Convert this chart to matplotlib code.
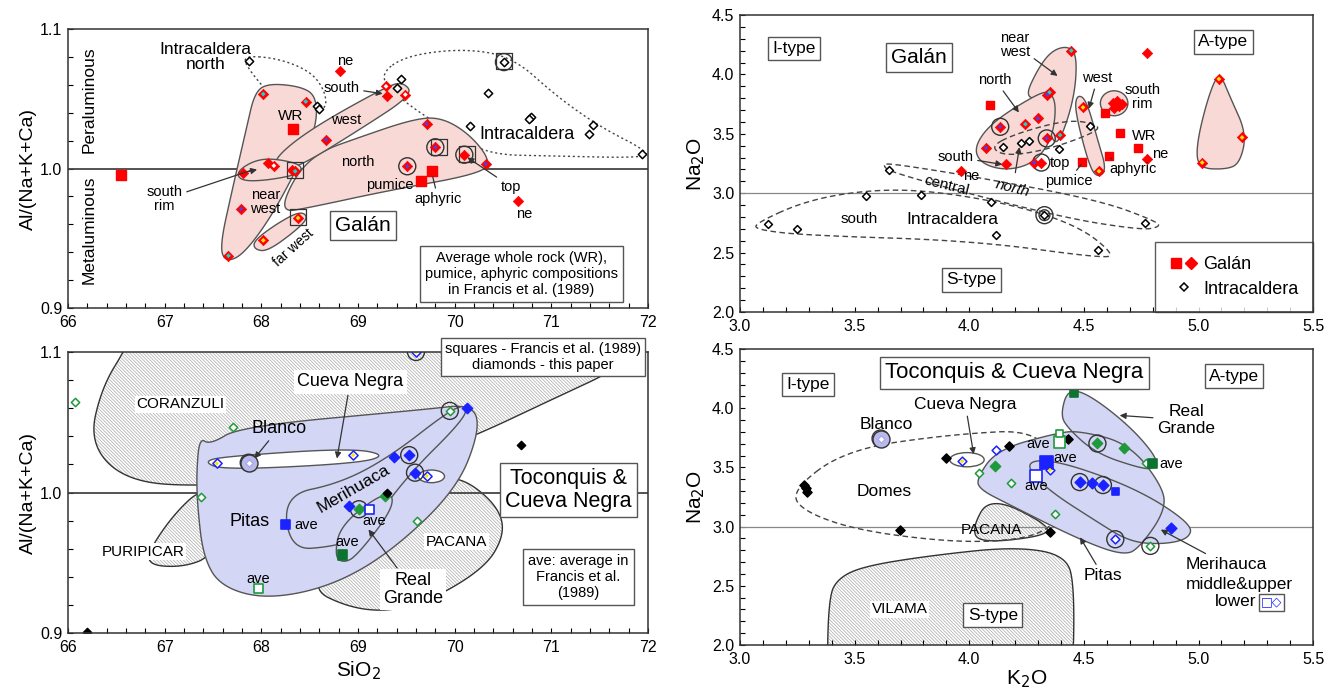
import numpy as np
import matplotlib
matplotlib.use('Agg')
import matplotlib.pyplot as plt
from matplotlib.patches import Polygon, Ellipse
from matplotlib.ticker import MultipleLocator
from matplotlib.legend_handler import HandlerTuple
from matplotlib.lines import Line2D

plt.rcParams['font.family'] = ['Liberation Sans', 'DejaVu Sans']
plt.rcParams['hatch.linewidth'] = 0.5

PINK = '#f8d9d6'
LAV = '#d3d6f4'
EDGE = '#555555'
BLUE = '#1a22ff'
GREEN = '#1f9a3a'
DKGREEN = '#0c7430'
HATCH_COLOR = '#a8a8a8'
CENTER = {'c': '#19d4d4', 'b': '#5b3cd6', 'y': '#ffe500', 'w': 'white', 'r': 'red'}
HATCH = '\\' * 10

# ---------------- panel 1: Galan, SiO2 vs A/CNK ----------------
p1_sq_x = [66.55, 68.33, 69.65, 69.77]
p1_sq_y = [0.9956, 1.0283, 0.991, 0.998]
p1_dia_x = [68.02, 68.46, 68.67, 67.81, 68.07, 68.13, 68.32, 68.35, 67.79, 67.66, 68.02,
            68.38, 68.81, 69.29, 69.30, 69.49, 69.71, 69.51, 69.80, 70.10, 70.32, 70.66]
p1_dia_y = [1.0534, 1.048, 1.0207, 0.9968, 1.004, 1.002, 0.999, 0.998, 0.971, 0.9375, 0.9485,
            0.9645, 1.0697, 1.0589, 1.0517, 1.053, 1.032, 1.0016, 1.0152, 1.0099, 1.0032, 0.9765]
p1_dia_c = ['c', 'c', 'b', 'r', 'r', 'w', 'r', 'c', 'b', 'c', 'y',
            'y', 'r', 'w', 'r', 'w', 'b', 'b', 'b', 'r', 'b', 'r']
p1_int_x = [67.87, 68.58, 68.60, 69.40, 69.45, 70.35, 70.51, 70.79, 70.77, 70.16, 71.43, 71.39, 71.94]
p1_int_y = [1.0773, 1.045, 1.043, 1.0577, 1.0644, 1.0539, 1.0763, 1.0369, 1.0355, 1.0302, 1.0314, 1.0247, 1.0106]
p1_circ_x = [69.51, 69.80, 70.10, 70.51]
p1_circ_y = [1.0016, 1.0152, 1.0099, 1.0763]
p1_box_x = [68.35, 68.38, 69.84, 70.13, 70.51]
p1_box_y = [0.999, 0.9650, 1.0155, 1.0105, 1.0773]

p1_near_west = [(67.93, 1.054), (68.06, 1.061), (68.40, 1.059), (68.57, 1.052), (68.57, 1.030),
                (68.40, 1.004), (68.10, 0.965), (67.81, 0.938), (67.63, 0.933), (67.57, 0.944),
                (67.70, 0.985), (67.85, 1.030)]
p1_west = [(68.12, 1.0064), (68.50, 1.028), (69.30, 1.059), (69.47, 1.062), (69.57, 1.053),
           (69.02, 1.028), (68.40, 1.0016), (68.19, 0.999)]
p1_south_rim = [(67.74, 0.997), (67.90, 1.005), (68.10, 1.0075), (68.42, 1.003), (68.40, 0.996),
                (68.06, 0.9915), (67.80, 0.991)]
p1_north = [(68.19, 0.9684), (68.35, 0.995), (68.60, 1.012), (69.00, 1.022), (69.55, 1.035),
            (69.85, 1.037), (70.15, 1.025), (70.38, 1.005), (70.25, 0.996), (69.30, 0.984), (68.50, 0.972)]
p1_far_west = [(67.92, 0.948), (68.15, 0.960), (68.40, 0.9695), (68.49, 0.9650), (68.35, 0.955),
               (68.06, 0.9405), (67.93, 0.942)]
p1_int_north = [(67.80, 1.081), (68.17, 1.079), (68.50, 1.070), (68.65, 1.057), (68.68, 1.043),
                (68.50, 1.040), (68.10, 1.052), (67.88, 1.070)]
p1_int_all = [(69.23, 1.068), (69.50, 1.081), (70.10, 1.086), (70.60, 1.080), (71.05, 1.052),
              (71.50, 1.030), (71.98, 1.013), (71.98, 1.0075), (71.00, 1.009), (70.35, 1.010),
              (70.00, 1.025), (69.70, 1.037), (69.35, 1.055)]

# ---------------- panel 2: Galan, K2O vs Na2O ----------------
p2_sq_x = [4.089, 4.593, 4.657, 4.734, 4.611, 4.491]
p2_sq_y = [3.742, 3.677, 3.503, 3.382, 3.315, 3.264]
p2_dia_x = [4.774, 4.445, 4.350, 4.340, 4.245, 4.299, 4.135, 4.073, 4.338, 4.396, 4.159, 4.283,
            4.314, 4.496, 4.566, 4.776, 3.962, 4.625, 4.645, 4.655, 4.632, 4.668, 4.640,
            5.089, 5.190, 5.016]
p2_dia_y = [4.177, 4.200, 3.848, 3.830, 3.581, 3.629, 3.559, 3.382, 3.461, 3.489, 3.242, 3.258,
            3.258, 3.722, 3.185, 3.292, 3.188, 3.760, 3.780, 3.730, 3.720, 3.750, 3.745,
            3.961, 3.469, 3.258]
p2_dia_c = ['r', 'c', 'c', 'b', 'c', 'b', 'b', 'b', 'b', 'c', 'r', 'b',
            'r', 'y', 'y', 'r', 'r', 'r', 'r', 'r', 'r', 'r', 'r',
            'y', 'y', 'y']
p2_int_x = [4.146, 4.226, 4.259, 4.392, 4.527, 3.651, 3.551, 3.788, 4.095, 4.328, 3.124, 3.248,
            4.117, 4.765, 4.560]
p2_int_y = [3.390, 3.424, 3.441, 3.371, 3.567, 3.194, 2.975, 2.983, 2.927, 2.815, 2.744, 2.699,
            2.646, 2.750, 2.525]
p2_circ_x = [4.135, 4.338, 4.314, 4.328]
p2_circ_y = [3.559, 3.461, 3.258, 2.815]

p2_near_west = [(4.43, 4.24), (4.47, 4.16), (4.46, 3.82), (4.40, 3.45), (4.36, 3.42), (4.33, 3.80),
                (4.24, 3.80), (4.30, 4.05), (4.36, 4.20)]
p2_north = [(4.02, 3.39), (4.10, 3.60), (4.30, 3.84), (4.355, 3.855), (4.38, 3.73), (4.36, 3.45),
            (4.28, 3.25), (4.16, 3.19), (4.05, 3.25)]
p2_west = [(4.47, 3.83), (4.51, 3.79), (4.56, 3.45), (4.60, 3.19), (4.556, 3.13), (4.52, 3.25), (4.46, 3.70)]
p2_far_west = [(5.09, 4.03), (5.14, 3.80), (5.21, 3.50), (5.18, 3.25), (5.12, 3.20), (5.00, 3.21),
               (4.99, 3.40), (5.04, 3.80)]
p2_int_north = [(4.09, 3.39), (4.20, 3.50), (4.43, 3.62), (4.56, 3.58), (4.56, 3.52), (4.35, 3.37), (4.16, 3.31)]
p2_central = [(3.62, 3.24), (3.66, 3.25), (4.02, 3.14), (4.57, 2.94), (4.82, 2.76), (4.83, 2.715),
              (4.75, 2.69), (4.39, 2.80), (3.66, 3.17)]
p2_south = [(3.06, 2.74), (3.29, 2.94), (3.57, 3.03), (3.84, 3.02), (4.20, 2.90), (4.48, 2.72),
            (4.63, 2.49), (4.59, 2.45), (4.02, 2.60), (3.29, 2.645), (3.08, 2.69)]

# ---------------- panel 3: Toconquis & Cueva Negra, SiO2 vs A/CNK ----------------
p3_blue_x = [69.37, 69.53, 69.59, 70.13, 68.91]
p3_blue_y = [1.0254, 1.0266, 1.0141, 1.0602, 0.9907]
p3_blueopen_x = [67.54, 68.95, 69.71, 69.60]
p3_blueopen_y = [1.0207, 1.0266, 1.0117, 1.100]
p3_greenopen_x = [66.07, 67.38, 67.71, 69.61, 69.95]
p3_greenopen_y = [1.0645, 0.997, 1.0463, 0.9798, 1.0581]
p3_green_x = [69.01, 69.28]
p3_green_y = [0.9881, 0.9975]
p3_black_x = [66.20, 70.69, 69.30]
p3_black_y = [0.9007, 1.0337, 0.9995]
p3_blanco = (67.87, 1.0212)
p3_circ_x = [67.87, 69.53, 69.59, 69.95, 69.01, 69.60]
p3_circ_y = [1.0212, 1.0266, 1.0141, 1.0581, 0.9881, 1.100]
p3_ave_x = [68.25, 69.12, 68.84, 67.97]
p3_ave_y = [0.9774, 0.9881, 0.9556, 0.9315]
p3_ave_fc = [BLUE, 'white', DKGREEN, 'white']
p3_ave_ec = [BLUE, BLUE, DKGREEN, GREEN]

p3_coranzuli = [(66.70, 1.125), (72.30, 1.125), (71.75, 1.090), (71.0, 1.066), (70.2, 1.040),
                (69.5, 1.022), (68.5, 1.012), (67.4, 1.004), (66.6, 1.008), (66.22, 1.035),
                (66.35, 1.075), (66.62, 1.105)]
p3_puripicar = [(66.85, 0.948), (66.83, 0.958), (67.10, 0.985), (67.40, 1.004), (67.60, 0.990),
                (67.50, 0.955), (67.20, 0.947)]
p3_pacana = [(68.40, 0.935), (69.00, 0.915), (69.60, 0.918), (70.30, 0.945), (70.52, 0.970),
             (70.45, 0.990), (70.10, 1.010), (69.80, 1.010), (69.50, 0.980)]
p3_pitas = [(67.36, 1.039), (67.47, 1.034), (67.78, 1.047), (69.68, 1.059), (70.19, 1.063),
            (70.26, 1.044), (70.02, 1.002), (69.33, 0.957), (68.71, 0.933), (68.05, 0.924),
            (67.58, 0.933), (67.40, 0.954), (67.34, 0.990), (67.33, 1.014)]
p3_cueva = [(67.40, 1.0219), (67.61, 1.0256), (68.92, 1.0316), (69.30, 1.0266), (68.99, 1.0207),
            (67.61, 1.0160)]
p3_merihuaca = [(68.30, 0.9592), (68.23, 0.9982), (68.81, 1.0065), (69.33, 1.0254), (69.95, 1.0586),
                (70.13, 1.0625), (70.09, 1.0515), (69.50, 1.0112), (69.05, 0.9686), (68.74, 0.9615)]
p3_real = [(68.76, 0.9544), (68.81, 0.9757), (69.19, 0.9970), (69.37, 0.9990), (69.33, 0.9852),
           (68.98, 0.9544), (68.85, 0.9500)]

# ---------------- panel 4: Toconquis & Cueva Negra, K2O vs Na2O ----------------
p4_black_x = [3.277, 3.286, 3.292, 3.697, 3.899, 4.172, 4.430, 4.352]
p4_black_y = [3.351, 3.323, 3.295, 2.969, 3.576, 3.685, 3.736, 2.955]
p4_blueopen_x = [3.969, 4.352, 4.118, 4.637]
p4_blueopen_y = [3.553, 3.478, 3.643, 2.893]
p4_green_x = [4.111, 4.559, 4.675]
p4_green_y = [3.511, 3.702, 3.666]
p4_greenopen_x = [4.042, 4.181, 4.375, 4.790, 4.770]
p4_greenopen_y = [3.455, 3.365, 3.104, 2.837, 3.539]
p4_blue_x = [4.482, 4.535, 4.583, 4.882]
p4_blue_y = [3.376, 3.365, 3.351, 2.992]
p4_blanco = (3.613, 3.744)
p4_circ_x = [3.613, 4.482, 4.583, 4.559, 4.637, 4.790]
p4_circ_y = [3.744, 3.376, 3.351, 3.702, 2.893, 2.837]
p4_sq_x = [4.458, 4.800, 4.393, 4.395, 4.338, 4.637, 4.292]
p4_sq_y = [4.124, 3.535, 3.713, 3.790, 3.539, 3.295, 3.427]
p4_sq_fc = [DKGREEN, DKGREEN, 'white', 'white', BLUE, BLUE, 'white']
p4_sq_ec = [DKGREEN, DKGREEN, GREEN, GREEN, BLUE, BLUE, BLUE]
p4_sq_s = [30, 40, 70, 25, 90, 25, 70]

p4_vilama = [(3.38, 1.60), (3.385, 2.40), (3.43, 2.57), (3.55, 2.67), (3.85, 2.76), (4.20, 2.83),
             (4.42, 2.76), (4.46, 2.50), (4.45, 1.60)]
p4_pacana = [(4.09, 3.26), (4.35, 3.01), (4.33, 2.92), (4.05, 2.86), (4.01, 2.98)]
p4_domes = [(3.22, 3.30), (3.46, 3.65), (3.92, 3.78), (4.33, 3.82), (4.40, 3.30), (4.37, 2.95),
            (4.05, 2.85), (3.55, 2.95), (3.28, 3.12)]
p4_pitas = [(4.03, 3.40), (4.12, 3.65), (4.38, 3.79), (4.48, 3.81), (4.70, 3.70), (4.85, 3.32),
            (4.85, 3.12), (4.75, 2.84), (4.68, 2.75), (4.48, 2.89), (4.16, 3.20), (4.05, 3.31)]
p4_real = [(4.40, 3.96), (4.43, 4.16), (4.52, 4.12), (4.70, 3.85), (4.82, 3.58), (4.81, 3.49),
           (4.75, 3.49), (4.55, 3.62), (4.42, 3.85)]
p4_merihuaca = [(4.29, 3.57), (4.45, 3.52), (4.75, 3.30), (4.97, 3.02), (4.96, 2.90), (4.85, 2.85),
                (4.70, 2.87), (4.55, 3.05), (4.35, 3.30), (4.25, 3.50)]


def smooth(pts, n=4):
    p = np.asarray(pts, float)
    for _ in range(n):
        nxt = np.roll(p, -1, axis=0)
        q = np.empty((2 * len(p), 2))
        q[0::2] = 0.75 * p + 0.25 * nxt
        q[1::2] = 0.25 * p + 0.75 * nxt
        p = q
    return p


def region(ax, pts, fc, ec=EDGE, ls='-', lw=1.0, z=1):
    ax.add_patch(Polygon(smooth(pts), closed=True, fc=fc, ec=ec, ls=ls, lw=lw, zorder=z))


def hatched(ax, pts, z=1):
    # light hatch fill first, dark outline on top
    xy = smooth(pts)
    ax.add_patch(Polygon(xy, closed=True, fc='white', ec=HATCH_COLOR, lw=0, hatch=HATCH, zorder=z))
    ax.add_patch(Polygon(xy, closed=True, fc='none', ec='#333333', lw=1.0, zorder=z))


def galan(ax, xs, ys, cs):
    ax.scatter(xs, ys, marker='D', s=28, c='red', edgecolors='red', linewidths=0.5, zorder=6)
    ax.scatter(xs, ys, marker='D', s=6, c=[CENTER[c] for c in cs], edgecolors='none', zorder=7)


def open_dia(ax, xs, ys, color, s=20, inner=None):
    ax.scatter(xs, ys, marker='D', s=s, facecolors='white', edgecolors=color, linewidths=1.1, zorder=6)
    if inner:
        ax.scatter(xs, ys, marker='D', s=5, c=inner, edgecolors='none', zorder=7)


def circles(ax, xs, ys):
    ax.scatter(xs, ys, marker='o', s=150, facecolors='none', edgecolors='#333333', linewidths=1.0, zorder=5)


def style(ax, xlim, ylim, xmaj, xmin, ymaj, ymin, yfmt):
    ax.set_xlim(*xlim)
    ax.set_ylim(*ylim)
    ax.xaxis.set_major_locator(MultipleLocator(xmaj))
    ax.xaxis.set_minor_locator(MultipleLocator(xmin))
    ax.yaxis.set_major_locator(MultipleLocator(ymaj))
    ax.yaxis.set_minor_locator(MultipleLocator(ymin))
    ax.yaxis.set_major_formatter(yfmt)
    ax.tick_params(which='both', direction='in', length=3.5, width=0.8, labelsize=11.5)
    ax.tick_params(axis='x', pad=5)
    ax.tick_params(axis='y', pad=4)
    ax.tick_params(which='both', top=False, right=False)
    for s in ax.spines.values():
        s.set_linewidth(1.1)
        s.set_color('#333333')
        s.set_zorder(10)


BOX = dict(boxstyle='square,pad=0.25', fc='white', ec='#555555', lw=1.0)
ARROW = dict(arrowstyle='-|>', color='#333333', lw=0.9, mutation_scale=9, shrinkA=1, shrinkB=1)
LINE = dict(arrowstyle='-', color='#333333', lw=0.9, shrinkA=1, shrinkB=1)

fig = plt.figure(figsize=(13.38, 6.91), dpi=100)
ax1 = fig.add_axes([0.0508, 0.5543, 0.4335, 0.4037])
ax2 = fig.add_axes([0.5531, 0.5485, 0.4283, 0.4298])
ax3 = fig.add_axes([0.0508, 0.0839, 0.4335, 0.4067])
ax4 = fig.add_axes([0.5531, 0.0666, 0.4283, 0.4283])

# ---------- panel 1 ----------
ax = ax1
style(ax, (66, 72), (0.9, 1.1), 1, 0.2, 0.1, 0.02, '{x:.1f}')
ax.axhline(1.0, color='#444444', lw=1.3, zorder=2)
region(ax, p1_int_north, 'none', ec='#444444', ls=(0, (1.5, 2)), z=2)
region(ax, p1_int_all, 'none', ec='#444444', ls=(0, (1.5, 2)), z=2)
for pts in [p1_near_west, p1_north, p1_west, p1_south_rim, p1_far_west]:
    region(ax, pts, PINK, z=3)
ax.scatter(p1_sq_x, p1_sq_y, marker='s', s=60, c='red', zorder=6)
galan(ax, p1_dia_x, p1_dia_y, p1_dia_c)
open_dia(ax, p1_int_x, p1_int_y, 'black', s=18)
circles(ax, p1_circ_x, p1_circ_y)
ax.scatter(p1_box_x, p1_box_y, marker='s', s=130, facecolors='none', edgecolors='#333333', lw=0.9, zorder=5)
ax.set_ylabel('Al/(Na+K+Ca)', fontsize=14, labelpad=2)
ax.text(66.22, 1.049, 'Peraluminous', rotation=90, ha='center', va='center', fontsize=12.5)
ax.text(66.22, 0.956, 'Metaluminous', rotation=90, ha='center', va='center', fontsize=12.5)
ax.text(67.42, 1.080, 'Intracaldera\nnorth', ha='center', va='center', fontsize=12.5, linespacing=1.0)
ax.text(68.87, 1.077, 'ne', ha='center', va='center', fontsize=10.5)
ax.annotate('south', xy=(69.27, 1.0535), xytext=(68.83, 1.058), ha='center', va='center',
            fontsize=10.5, arrowprops=ARROW, zorder=8)
ax.text(68.30, 1.0374, 'WR', ha='center', va='center', fontsize=11, zorder=8)
ax.text(68.88, 1.035, 'west', ha='center', va='center', fontsize=10.5, zorder=8)
ax.text(69.00, 1.005, 'north', ha='center', va='center', fontsize=10.5, zorder=8)
ax.text(70.75, 1.0243, 'Intracaldera', ha='center', va='center', fontsize=13, zorder=8)
ax.annotate('south\nrim', xy=(67.93, 0.9995), xytext=(67.00, 0.978), ha='center', va='center',
            fontsize=10.5, linespacing=1.0, arrowprops=LINE, zorder=8)
ax.annotate('', xy=(67.97, 0.9995), xytext=(67.85, 0.9975), arrowprops=ARROW, zorder=8)
ax.text(68.04, 0.976, 'near\nwest', ha='center', va='center', fontsize=10.5, linespacing=1.0, zorder=8)
ax.text(68.33, 0.9435, 'far west', ha='center', va='center', fontsize=10, rotation=42, zorder=8)
ax.text(69.05, 0.9592, 'Galán', ha='center', va='center', fontsize=15, bbox=BOX, zorder=8)
ax.text(69.33, 0.9885, 'pumice', ha='center', va='center', fontsize=10.5, zorder=8)
ax.annotate('aphyric', xy=(69.77, 0.995), xytext=(69.83, 0.978), ha='center', va='center',
            fontsize=10.5, arrowprops=LINE, zorder=8)
ax.annotate('top', xy=(70.12, 1.0085), xytext=(70.58, 0.987), ha='center', va='center',
            fontsize=10.5, arrowprops=ARROW, zorder=8)
ax.text(70.72, 0.9672, 'ne', ha='center', va='center', fontsize=10.5, zorder=8)
ax.text(70.69, 0.9245, 'Average whole rock (WR),\npumice, aphyric compositions\nin Francis et al. (1989)',
        ha='center', va='center', fontsize=10.5, bbox=dict(boxstyle='square,pad=0.35', fc='white', ec='#555555', lw=1.0), zorder=8)

# ---------- panel 2 ----------
ax = ax2
style(ax, (3.0, 5.5), (2.0, 4.5), 0.5, 0.1, 0.5, 0.1, '{x:.1f}')
ax.axhline(3.0, color='#888888', lw=0.9, zorder=2)
region(ax, p2_central, 'none', ec='#444444', ls=(0, (4, 2.5)), z=2)
region(ax, p2_south, 'none', ec='#444444', ls=(0, (4, 2.5)), z=2)
for pts in [p2_near_west, p2_north, p2_west, p2_far_west]:
    region(ax, pts, PINK, z=3)
ax.add_patch(Ellipse((4.632, 3.757), 0.12, 0.21, fc=PINK, ec=EDGE, lw=1.0, zorder=3))
region(ax, p2_int_north, 'none', ec='#444444', ls=(0, (4, 2.5)), z=4)
ax.scatter(p2_sq_x, p2_sq_y, marker='s', s=28, c='red', zorder=6)
galan(ax, p2_dia_x, p2_dia_y, p2_dia_c)
open_dia(ax, p2_int_x, p2_int_y, 'black', s=16)
circles(ax, p2_circ_x, p2_circ_y)
ax.scatter([p2_int_x[9]], [p2_int_y[9]], marker='o', s=60, facecolors='none', edgecolors='#333333', zorder=5)
ax.set_ylabel('Na$_2$O', fontsize=15, labelpad=4)
ax.text(3.234, 4.219, 'I-type', ha='center', va='center', fontsize=12.5, bbox=BOX, zorder=8)
ax.text(3.779, 4.143, 'Galán', ha='center', va='center', fontsize=15, bbox=BOX, zorder=8)
ax.text(5.108, 4.275, 'A-type', ha='center', va='center', fontsize=12.5, bbox=BOX, zorder=8)
ax.text(4.009, 2.272, 'S-type', ha='center', va='center', fontsize=12.5, bbox=BOX, zorder=8)
ax.annotate('near\nwest', xy=(4.39, 3.98), xytext=(4.20, 4.25), ha='center', va='center',
            fontsize=10.5, linespacing=1.0, arrowprops=ARROW, zorder=8)
ax.annotate('north', xy=(4.22, 3.67), xytext=(4.113, 3.952), ha='center', va='center',
            fontsize=10.5, arrowprops=ARROW, zorder=8)
ax.annotate('west', xy=(4.52, 3.70), xytext=(4.56, 3.97), ha='center', va='center',
            fontsize=10.5, arrowprops=ARROW, zorder=8)
ax.text(4.755, 3.81, 'south\nrim', ha='center', va='center', fontsize=10.5, linespacing=1.0, zorder=8)
ax.text(4.761, 3.48, 'WR', ha='center', va='center', fontsize=10.5, zorder=8)
ax.text(4.834, 3.326, 'ne', ha='center', va='center', fontsize=10.5, zorder=8)
ax.text(4.395, 3.258, 'top', ha='center', va='center', fontsize=10.5, zorder=8)
ax.annotate('aphyric', xy=(4.611, 3.30), xytext=(4.715, 3.202), ha='center', va='center',
            fontsize=10.5, arrowprops=LINE, zorder=8)
ax.annotate('pumice', xy=(4.491, 3.25), xytext=(4.432, 3.101), ha='center', va='center',
            fontsize=10.5, arrowprops=LINE, zorder=8)
ax.annotate('south', xy=(4.15, 3.24), xytext=(3.94, 3.306), ha='center', va='center',
            fontsize=10.5, arrowprops=ARROW, zorder=8)
ax.text(4.009, 3.146, 'ne', ha='center', va='center', fontsize=10.5, zorder=8)
ax.annotate('north', xy=(4.22, 3.40), xytext=(4.19, 3.045), ha='center', va='center', style='italic',
            rotation=-14, fontsize=11, arrowprops=ARROW, zorder=8)
ax.text(3.90, 3.06, 'central', ha='center', va='center', rotation=-14, fontsize=11, zorder=8)
ax.text(3.52, 2.78, 'south', ha='center', va='center', fontsize=11, zorder=8)
ax.text(3.925, 2.775, 'Intracaldera', ha='center', va='center', fontsize=12.5, zorder=8)
h_sq = Line2D([], [], ls='none', marker='s', ms=7, color='red')
h_d = Line2D([], [], ls='none', marker='D', ms=6, color='red')
h_i = Line2D([], [], ls='none', marker='D', ms=4.5, mfc='white', mec='black', mew=1.1)
leg = ax.legend(handles=[(h_sq, h_d), h_i], labels=['Galán', 'Intracaldera'],
                handler_map={tuple: HandlerTuple(ndivide=None, pad=0.0)}, loc='lower right',
                fontsize=13, frameon=True, fancybox=False, borderaxespad=0, handlelength=1.6,
                handletextpad=0.3, borderpad=0.8, labelspacing=0.4)
leg.get_frame().set_edgecolor('#333333')
leg.get_frame().set_linewidth(1.0)
leg.set_zorder(9)

# ---------- panel 3 ----------
ax = ax3
style(ax, (66, 72), (0.9, 1.1), 1, 0.2, 0.1, 0.02, '{x:.1f}')
hatched(ax, p3_coranzuli)
hatched(ax, p3_puripicar)
hatched(ax, p3_pacana)
ax.axhline(1.0, color='#444444', lw=1.3, zorder=2)
region(ax, p3_pitas, LAV, z=3)
region(ax, p3_cueva, 'white', z=4)
region(ax, p3_merihuaca, LAV, z=4)
region(ax, p3_real, LAV, z=4)
ax.add_patch(Ellipse((69.76, 1.0115), 0.27, 0.009, fc='white', ec=EDGE, lw=1.0, zorder=4))
circles(ax, p3_circ_x, p3_circ_y)
ax.scatter([p3_blanco[0]], [p3_blanco[1]], marker='o', s=150, fc='#b9b9ec', ec='#333333', zorder=5)
ax.scatter([p3_blanco[0]], [p3_blanco[1]], marker='D', s=14, fc='white', ec='#aaaaee', zorder=6)
ax.scatter(p3_blue_x, p3_blue_y, marker='D', s=28, c=BLUE, zorder=6)
open_dia(ax, p3_blueopen_x, p3_blueopen_y, BLUE, s=22, inner=CENTER['y'])
open_dia(ax, p3_greenopen_x, p3_greenopen_y, GREEN, s=18)
ax.scatter(p3_green_x, p3_green_y, marker='D', s=28, c=GREEN, zorder=6)
ax.scatter(p3_black_x, p3_black_y, marker='D', s=18, c='black', zorder=6)
ax.scatter(p3_ave_x, p3_ave_y, marker='s', s=45, fc=p3_ave_fc, ec=p3_ave_ec, lw=1.2, zorder=6)
ax.set_ylabel('Al/(Na+K+Ca)', fontsize=14, labelpad=2)
ax.set_xlabel('SiO$_2$', fontsize=15, labelpad=3)
ax.text(67.16, 1.0628, 'CORANZULI', ha='center', va='center', fontsize=11, zorder=8,
        bbox=dict(boxstyle='square,pad=0.1', fc='white', ec='none'))
ax.annotate('Blanco', xy=(67.92, 1.0235), xytext=(68.18, 1.0456), ha='center', va='center',
            fontsize=13, arrowprops=ARROW, zorder=8)
ax.annotate('Cueva Negra', xy=(68.78, 1.0232), xytext=(68.92, 1.0787), ha='center', va='center',
            fontsize=13, arrowprops=ARROW, zorder=8,
            bbox=dict(boxstyle='square,pad=0.2', fc='white', ec='none'))
ax.text(68.95, 1.003, 'Merihuaca', ha='center', va='center', rotation=30, fontsize=12.5, zorder=8)
ax.text(67.88, 0.9793, 'Pitas', ha='center', va='center', fontsize=13, zorder=8)
for tx, ty in [(68.46, 0.977), (69.17, 0.980), (68.89, 0.965), (67.97, 0.9385)]:
    ax.text(tx, ty, 'ave', ha='center', va='center', fontsize=10.5, zorder=8)
ax.text(71.18, 1.0018, 'Toconquis &\nCueva Negra', ha='center', va='center', fontsize=15.5,
        linespacing=1.1, bbox=BOX, zorder=8)
ax.text(70.02, 0.965, 'PACANA', ha='center', va='center', fontsize=11, zorder=8,
        bbox=dict(boxstyle='square,pad=0.1', fc='white', ec='none'))
ax.text(66.78, 0.958, 'PURIPICAR', ha='center', va='center', fontsize=11, zorder=8,
        bbox=dict(boxstyle='square,pad=0.1', fc='white', ec='none'))
ax.annotate('Real\nGrande', xy=(69.1, 0.9745), xytext=(69.57, 0.931), ha='center', va='center',
            fontsize=13, linespacing=1.1, arrowprops=ARROW, zorder=8,
            bbox=dict(boxstyle='square,pad=0.15', fc='white', ec='none'))
ax.text(71.28, 0.940, 'ave: average in\nFrancis et al.\n(1989)', ha='center', va='center',
        fontsize=10.5, bbox=dict(boxstyle='square,pad=0.35', fc='white', ec='#555555', lw=1.0), zorder=8)
fig.text(543 / 1338, 1 - 357 / 691, 'squares - Francis et al. (1989)\ndiamonds - this paper',
         ha='center', va='center', fontsize=10.5, linespacing=1.1, zorder=20,
         bbox=dict(boxstyle='square,pad=0.3', fc='white', ec='#555555', lw=1.0))

# ---------- panel 4 ----------
ax = ax4
style(ax, (3.0, 5.5), (2.0, 4.5), 0.5, 0.1, 0.5, 0.1, '{x:.1f}')
ax.axhline(3.0, color='#888888', lw=0.9, zorder=2)
hatched(ax, p4_vilama)
hatched(ax, p4_pacana)
region(ax, p4_domes, 'none', ec='#444444', ls=(0, (4, 2.5)), z=2)
for pts in [p4_pitas, p4_real, p4_merihuaca]:
    region(ax, pts, LAV, ec='none', z=3)
for pts in [p4_pitas, p4_real, p4_merihuaca]:
    region(ax, pts, 'none', z=3.5)
ax.add_patch(Ellipse((3.99, 3.565), 0.15, 0.12, fc='white', ec=EDGE, lw=1.0, zorder=4))
circles(ax, p4_circ_x, p4_circ_y)
ax.scatter([p4_blanco[0]], [p4_blanco[1]], marker='o', s=150, fc='#b9b9ec', ec='#333333', zorder=5)
ax.scatter([p4_blanco[0]], [p4_blanco[1]], marker='D', s=14, fc='white', ec='#aaaaee', zorder=6)
ax.scatter(p4_black_x, p4_black_y, marker='D', s=22, c='black', zorder=6)
open_dia(ax, p4_blueopen_x[:2], p4_blueopen_y[:2], BLUE, s=20, inner=CENTER['y'])
open_dia(ax, p4_blueopen_x[2:], p4_blueopen_y[2:], BLUE, s=20)
ax.scatter(p4_green_x, p4_green_y, marker='D', s=28, c=GREEN, zorder=6)
open_dia(ax, p4_greenopen_x, p4_greenopen_y, GREEN, s=18)
ax.scatter(p4_blue_x, p4_blue_y, marker='D', s=30, c=BLUE, zorder=6)
ax.scatter(p4_sq_x, p4_sq_y, marker='s', s=p4_sq_s, fc=p4_sq_fc, ec=p4_sq_ec, lw=1.2, zorder=6)
ax.set_ylabel('Na$_2$O', fontsize=15, labelpad=4)
ax.set_xlabel('K$_2$O', fontsize=15, labelpad=1)
ax.text(3.295, 4.199, 'I-type', ha='center', va='center', fontsize=12.5, bbox=BOX, zorder=8)
ax.text(4.196, 4.298, 'Toconquis & Cueva Negra', ha='center', va='center', fontsize=16,
        bbox=dict(boxstyle='square,pad=0.25', fc='white', ec='#555555', lw=1.0), zorder=8)
ax.text(5.155, 4.27, 'A-type', ha='center', va='center', fontsize=12.5, bbox=BOX, zorder=8)
ax.annotate('Cueva Negra', xy=(4.02, 3.60), xytext=(3.983, 4.031), ha='center', va='center',
            fontsize=12.5, arrowprops=ARROW, zorder=8)
ax.text(3.64, 3.862, 'Blanco', ha='center', va='center', fontsize=12.5, zorder=8)
ax.text(3.627, 3.30, 'Domes', ha='center', va='center', fontsize=12.5, zorder=8)
ax.text(4.098, 2.969, 'PACANA', ha='center', va='center', fontsize=11, zorder=8)
ax.text(3.697, 2.303, 'VILAMA', ha='center', va='center', fontsize=11, zorder=8,
        bbox=dict(boxstyle='square,pad=0.1', fc='white', ec='none'))
ax.text(4.103, 2.253, 'S-type', ha='center', va='center', fontsize=12.5, bbox=BOX, zorder=8)
ax.annotate('Pitas', xy=(4.48, 2.92), xytext=(4.583, 2.584), ha='center', va='center',
            fontsize=12.5, arrowprops=ARROW, zorder=8)
ax.annotate('Real\nGrande', xy=(4.65, 3.94), xytext=(4.946, 3.90), ha='center', va='center',
            fontsize=12.5, linespacing=1.1, arrowprops=ARROW, zorder=8)
ax.annotate('Merihauca', xy=(4.83, 2.98), xytext=(5.12, 2.68), ha='center', va='center',
            fontsize=12.5, arrowprops=ARROW, zorder=8)
ax.text(5.18, 2.51, 'middle&upper', ha='center', va='center', fontsize=12.5, zorder=8)
ax.text(5.16, 2.365, 'lower', ha='center', va='center', fontsize=12.5, zorder=8)
ax.text(5.32, 2.36, '□◇', ha='center', va='center', fontsize=9, color=BLUE, family=['DejaVu Sans'],
        bbox=dict(boxstyle='square,pad=0.15', fc='white', ec='#555555', lw=1.0), zorder=8)
for tx, ty in [(4.30, 3.70), (4.417, 3.58), (4.29, 3.34), (4.88, 3.53)]:
    ax.text(tx, ty, 'ave', ha='center', va='center', fontsize=10.5, zorder=8)

fig.savefig('out.png', dpi=100)
